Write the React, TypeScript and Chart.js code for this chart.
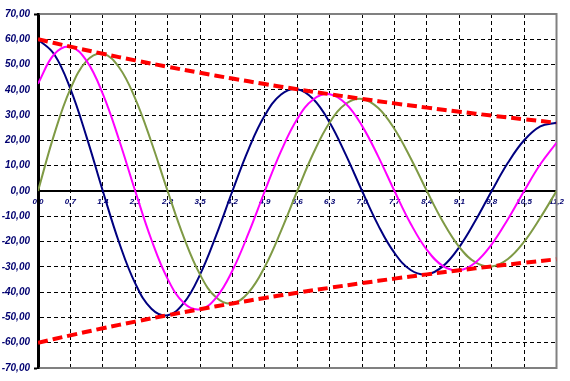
import { useEffect, useRef } from 'react';
import { Chart, registerables } from 'chart.js';

Chart.register(...registerables);

// x positions of the curve samples
const X_SAMPLES = [0, 0.35, 0.7, 1.05, 1.4, 1.75, 2.1, 2.45, 2.8, 3.15, 3.5, 3.85, 4.2, 4.55, 4.9, 5.25, 5.6, 5.95, 6.3, 6.65, 7.0, 7.35, 7.7, 8.05, 8.4, 8.75, 9.1, 9.45, 9.8, 10.15, 10.5, 10.85, 11.2];

const NAVY_SERIES = [60.0, 54.07, 40.36, 21.31, 0, -20.27, -36.53, -46.55, -49.14, -44.28, -33.06, -17.45, 0, 16.6, 29.92, 38.13, 40.25, 36.27, 27.08, 14.29, 0, -13.6, -24.5, -31.23, -32.97, -29.71, -22.18, -11.71, 0, 11.14, 20.07, 25.58, 27.0];

const OLIVE_SERIES = [0, 22.4, 40.36, 51.44, 54.3, 48.93, 36.53, 19.28, 0, -18.34, -33.06, -42.13, -44.47, -40.08, -29.92, -15.79, 0, 15.02, 27.08, 34.5, 36.43, 32.82, 24.5, 12.93, 0, -12.3, -22.18, -28.26, -29.83, -26.88, -20.07, -10.59, 0];

const MAGENTA_SERIES = [42.43, 54.07, 57.08, 51.44, 38.4, 20.27, 0, -19.28, -34.75, -44.28, -46.75, -42.13, -31.45, -16.6, 0, 15.79, 28.46, 36.27, 38.29, 34.5, 25.76, 13.6, 0, -12.93, -23.31, -29.71, -31.36, -28.26, -21.1, -11.14, 0, 10.59, 19.09];

// envelope (red dashed)
const ENVELOPE_X = [0, 0.7, 1.4, 2.1, 2.8, 3.5, 4.2, 4.9, 5.6, 6.3, 7.0, 7.7, 8.4, 9.1, 9.8, 10.5, 11.2];
const ENVELOPE_UPPER = [60.0, 57.08, 54.3, 51.66, 49.14, 46.75, 44.47, 42.31, 40.25, 38.29, 36.43, 34.65, 32.97, 31.36, 29.83, 28.38, 27.0];
const ENVELOPE_LOWER = [-60.0, -57.08, -54.3, -51.66, -49.14, -46.75, -44.47, -42.31, -40.25, -38.29, -36.43, -34.65, -32.97, -31.36, -29.83, -28.38, -27.0];

const X_MIN = 0;
const X_MAX = 11.2;
const X_STEP = 0.7;
const Y_MIN = -70;
const Y_MAX = 70;
const Y_STEP = 10;

const LABEL_COLOR = '#000070';

const framePlugin = {
  id: 'frame',
  beforeDatasetsDraw(chart: any) {
    const { ctx, chartArea } = chart;
    const { left, right, top, bottom } = chartArea;
    ctx.save();
    ctx.strokeStyle = '#808080';
    ctx.lineWidth = 2;
    ctx.beginPath();
    ctx.moveTo(left + 1.5, top);
    ctx.lineTo(right, top);
    ctx.lineTo(right, bottom);
    ctx.lineTo(left + 1.5, bottom);
    ctx.stroke();
    ctx.restore();
  },
};

function pts(xs: number[], ys: number[]) {
  return xs.map((x, i) => ({ x, y: ys[i] }));
}

export default function App() {
  const ref = useRef<HTMLCanvasElement>(null);

  useEffect(() => {
    if (!ref.current) return;
    const chart = new Chart(ref.current, {
      type: 'line',
      data: {
        datasets: [
          {
            data: pts(ENVELOPE_X, ENVELOPE_UPPER),
            borderColor: '#ff0000',
            borderWidth: 4,
            borderDash: [10, 5],
            pointRadius: 0,
            tension: 0.4,
            fill: false,
          },
          {
            data: pts(ENVELOPE_X, ENVELOPE_LOWER),
            borderColor: '#ff0000',
            borderWidth: 4,
            borderDash: [10, 5],
            pointRadius: 0,
            tension: 0.4,
            fill: false,
          },
          {
            data: pts(X_SAMPLES, MAGENTA_SERIES),
            borderColor: '#ff00ff',
            borderWidth: 2,
            pointRadius: 0,
            tension: 0.4,
            fill: false,
          },
          {
            data: pts(X_SAMPLES, OLIVE_SERIES),
            borderColor: '#7f9a45',
            borderWidth: 2,
            pointRadius: 0,
            tension: 0.4,
            fill: false,
          },
          {
            data: pts(X_SAMPLES, NAVY_SERIES),
            borderColor: '#000080',
            borderWidth: 2,
            pointRadius: 0,
            tension: 0.4,
            fill: false,
          },
        ],
      },
      options: {
        animation: false,
        responsive: false,
        devicePixelRatio: 1,
        layout: { padding: { left: 0, right: 13, top: 14, bottom: 13 } },
        plugins: {
          legend: { display: false },
          tooltip: { enabled: false },
        },
        scales: {
          x: {
            type: 'linear',
            position: { y: 0 } as any,
            min: X_MIN,
            max: X_MAX,
            afterFit(scale: any) {
              scale.height = 0;
            },
            ticks: {
              stepSize: X_STEP,
              autoSkip: false,
              maxRotation: 0,
              padding: 6,
              color: LABEL_COLOR,
              font: { family: 'Liberation Sans, Arial, sans-serif', size: 8, weight: 'bold', style: 'italic' },
              callback: (v: any) => Number(v).toFixed(1).replace('.', ','),
            },
            grid: {
              color: '#000000',
              lineWidth: 1,
              drawTicks: false,
            },
            border: { display: true, color: '#000000', width: 2, dash: [4, 3] },
          },
          y: {
            type: 'linear',
            position: 'left',
            min: Y_MIN,
            max: Y_MAX,
            afterFit(scale: any) {
              scale.width = 38;
            },
            ticks: {
              stepSize: Y_STEP,
              padding: 4,
              color: LABEL_COLOR,
              font: { family: 'Liberation Sans, Arial, sans-serif', size: 10, weight: 'bold', style: 'italic' },
              callback: (v: any) => Number(v).toFixed(2).replace('.', ','),
            },
            grid: {
              color: '#000000',
              lineWidth: 1,
              drawTicks: true,
              tickLength: 4,
              tickWidth: 2,
              tickColor: (ctx: any) =>
                ctx.tick && (ctx.tick.value === Y_MAX || ctx.tick.value === Y_MIN) ? '#000000' : 'rgba(0,0,0,0)',
            },
            border: { display: true, color: '#000000', width: 3, dash: [4, 3] },
          },
        },
      },
      plugins: [framePlugin],
    });
    return () => chart.destroy();
  }, []);

  return (
    <div style={{ position: 'fixed', left: 0, top: 0, width: 570, height: 381, background: '#ffffff' }}>
      <canvas ref={ref} width={570} height={381} style={{ width: 570, height: 381, display: 'block' }} />
    </div>
  );
}
